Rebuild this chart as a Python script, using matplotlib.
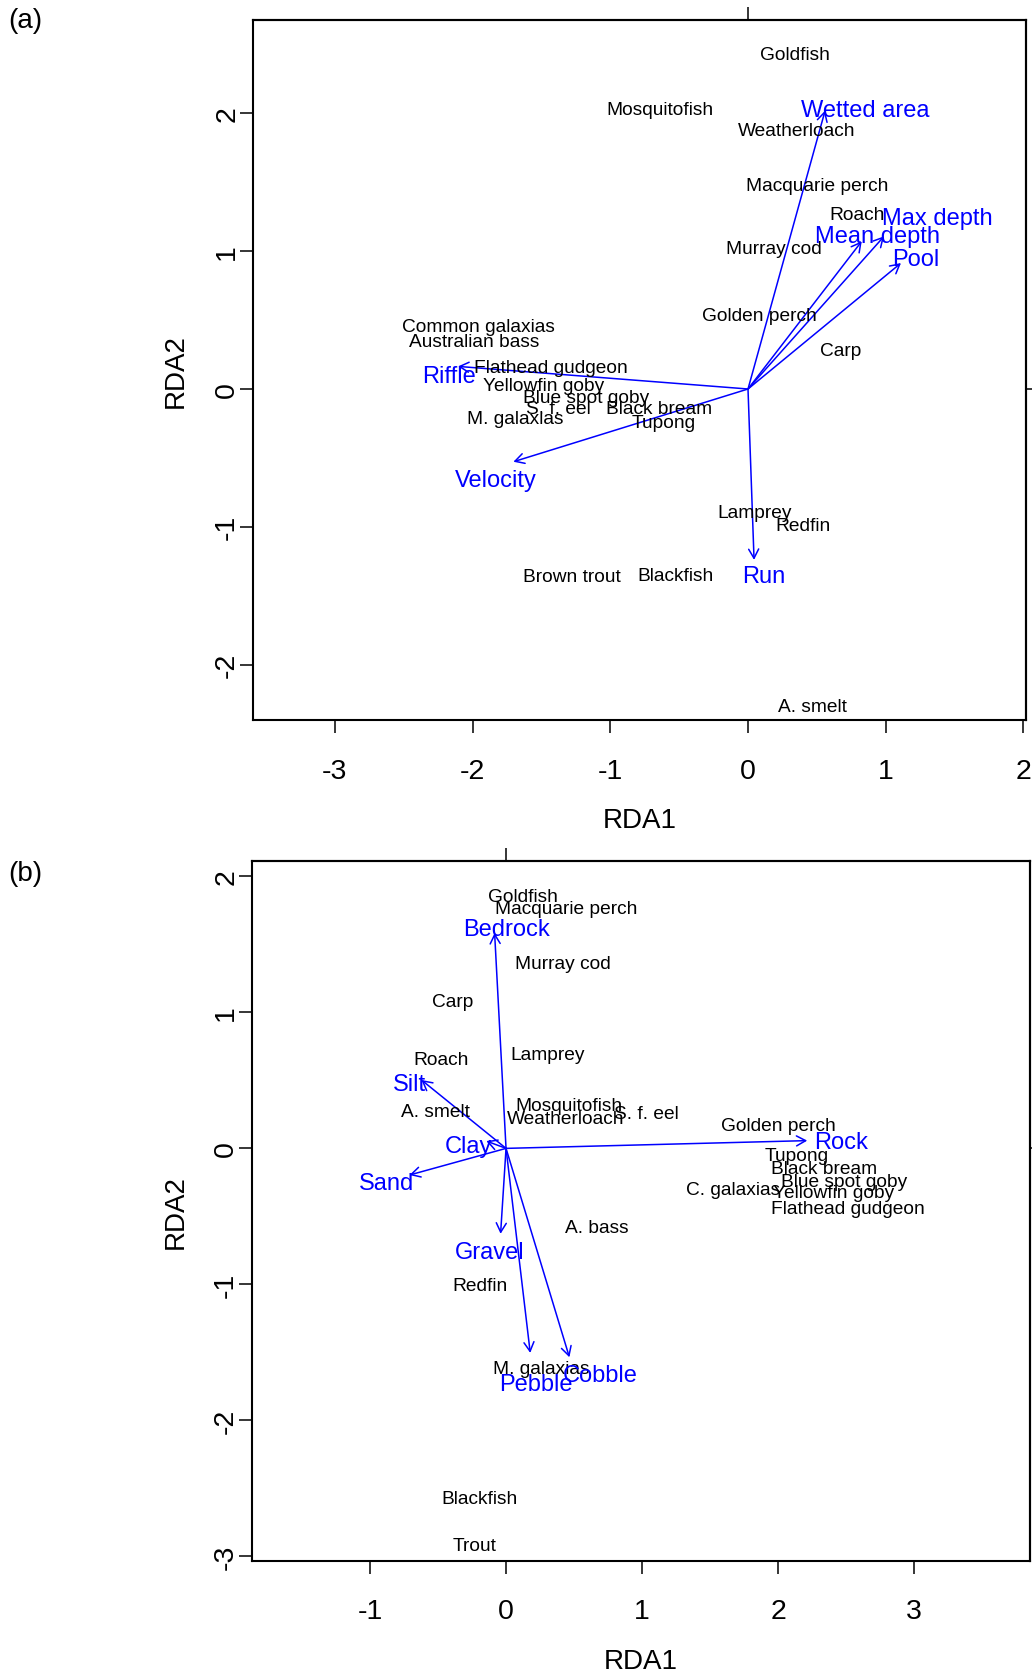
import matplotlib
matplotlib.use("Agg")
import matplotlib.pyplot as plt
from matplotlib.transforms import offset_copy

plt.rcParams["font.family"] = ["Liberation Sans", "DejaVu Sans"]

W, H = 1032, 1674

# ---- panel (a): habitat variables ----
species_a = ["Goldfish", "Mosquitofish", "Weatherloach", "Macquarie perch", "Roach",
             "Murray cod", "Golden perch", "Carp", "Common galaxias", "Australian bass",
             "Flathead gudgeon", "Yellowfin goby", "Blue spot goby", "S. f. eel",
             "Black bream", "Tupong", "M. galaxias", "Lamprey", "Redfin",
             "Brown trout", "Blackfish", "A. smelt"]
species_a_x = [0.34, -0.64, 0.35, 0.50, 0.795, 0.19, 0.085, 0.67, -1.96, -1.99,
               -1.43, -1.484, -1.175, -1.38, -0.644, -0.612, -1.688, 0.047, 0.398,
               -1.28, -0.53, 0.47]
species_a_y = [2.45, 2.05, 1.90, 1.50, 1.29, 1.04, 0.56, 0.30, 0.48, 0.37,
               0.18, 0.05, -0.04, -0.116, -0.12, -0.22, -0.19, -0.876, -0.966,
               -1.34, -1.33, -2.28]

env_a = ["Wetted area", "Max depth", "Mean depth", "Pool", "Riffle", "Velocity", "Run"]
env_a_x = [0.56, 0.988, 0.826, 1.111, -2.106, -1.704, 0.044]
env_a_y = [2.02, 1.108, 1.072, 0.914, 0.164, -0.528, -1.24]
env_a_lx = [0.85, 1.377, 0.937, 1.22, -2.173, -1.832, 0.118]
env_a_ly = [2.047, 1.261, 1.132, 0.963, 0.121, -0.637, -1.337]

# ---- panel (b): substrate variables ----
species_b = ["Goldfish", "Macquarie perch", "Murray cod", "Carp", "Roach", "Lamprey",
             "A. smelt", "Mosquitofish", "Weatherloach", "S. f. eel", "Golden perch",
             "Tupong", "Black bream", "Blue spot goby", "Yellowfin goby",
             "Flathead gudgeon", "C. galaxias", "A. bass", "Redfin", "M. galaxias",
             "Blackfish", "Trout"]
species_b_x = [0.124, 0.442, 0.417, -0.39, -0.478, 0.305, -0.519, 0.462, 0.442, 1.029,
               2.0, 2.135, 2.335, 2.486, 2.41, 2.514, 1.673, 0.669, -0.194, 0.258,
               -0.194, -0.232]
species_b_y = [1.876, 1.79, 1.38, 1.10, 0.677, 0.714, 0.295, 0.339, 0.24, 0.277,
               0.192, -0.029, -0.122, -0.22, -0.304, -0.421, -0.279, -0.556, -0.985,
               -1.598, -2.549, -2.90]

env_b = ["Bedrock", "Rock", "Silt", "Clay", "Sand", "Gravel", "Pebble", "Cobble"]
env_b_x = [-0.084, 2.215, -0.622, -0.145, -0.71, -0.04, 0.178, 0.466]
env_b_y = [1.584, 0.057, 0.503, 0.054, -0.196, -0.628, -1.504, -1.536]
env_b_lx = [0.0, 2.464, -0.712, -0.28, -0.877, -0.123, 0.22, 0.69]
env_b_ly = [1.633, 0.074, 0.498, 0.04, -0.232, -0.74, -1.708, -1.646]

xticks_a = [-3, -2, -1, 0, 1, 2]
yticks_a = [-2, -1, 0, 1, 2]
xticks_b = [-1, 0, 1, 2, 3]
yticks_b = [-3, -2, -1, 0, 1, 2]


def fx(px):
    return px / W


def fy(py):
    return 1 - py / H


def draw_panel(box, xlim, ylim, xticks, yticks, names, sx, sy, env, ex, ey, elx, ely, tag):
    left, top, right, bottom = box
    ax = fig.add_axes([fx(left), fy(bottom), (right - left) / W, (bottom - top) / H])
    ax.set_xlim(*xlim)
    ax.set_ylim(*ylim)

    for head_x, head_y in zip(ex, ey):
        ax.annotate("", xy=(head_x, head_y), xytext=(0, 0),
                    arrowprops=dict(arrowstyle="->,head_length=0.55,head_width=0.3",
                                    color="blue", lw=1.1, shrinkA=0, shrinkB=0,
                                    mutation_scale=12))
    # R centres text on the glyphs, matplotlib on the full line box
    tr = offset_copy(ax.transData, fig=fig, y=-3.2, units="dots")
    for name, x, y in zip(names, sx, sy):
        ax.text(x, y, name, ha="center", va="center", fontsize=13.8, color="black",
                transform=tr)
    for name, x, y in zip(env, elx, ely):
        ax.text(x, y, name, ha="center", va="center", fontsize=17, color="blue",
                transform=tr)

    ax.set_xticks(xticks)
    ax.set_yticks(yticks)
    ax.set_xticklabels([str(t) for t in xticks])
    ax.set_yticklabels([str(t) for t in yticks])
    ax.tick_params(axis="both", direction="out", length=9.5, width=1.1, labelsize=20.5)
    ax.tick_params(axis="x", pad=17.5)
    ax.tick_params(axis="y", pad=-0.3, labelrotation=90)
    for lab in ax.get_yticklabels():
        lab.set_va("center")
    for sp in ax.spines.values():
        sp.set_linewidth(1.5)

    # single ticks at zero on the top and right axes
    sec_x = ax.secondary_xaxis("top")
    sec_x.set_xticks([0])
    sec_x.tick_params(length=9.5, width=1.1, labeltop=False)
    sec_x.spines["top"].set_linewidth(1.5)
    sec_y = ax.secondary_yaxis("right")
    sec_y.set_yticks([0])
    sec_y.tick_params(length=9.5, width=1.1, labelright=False)
    sec_y.spines["right"].set_linewidth(1.5)

    cx = (left + right) / 2
    cy = (top + bottom) / 2
    fig.text(fx(cx), fy(bottom + 100), "RDA1", ha="center", va="center", fontsize=20)
    fig.text(fx(176), fy(cy), "RDA2", ha="center", va="center", fontsize=20, rotation=90)
    fig.text(fx(25.6), fy(top + 0.6 if tag == "(a)" else top + 12), tag,
             ha="center", va="center", fontsize=20)
    return ax


fig = plt.figure(figsize=(W / 100, H / 100), dpi=100)

draw_panel((253, 20.7, 1026, 721.4), (-3.595, 2.019), (-2.405, 2.68),
           xticks_a, yticks_a, species_a, species_a_x, species_a_y,
           env_a, env_a_x, env_a_y, env_a_lx, env_a_ly, "(a)")

draw_panel((252, 862, 1029.6, 1562), (-1.868, 3.85), (-3.034, 2.113),
           xticks_b, yticks_b, species_b, species_b_x, species_b_y,
           env_b, env_b_x, env_b_y, env_b_lx, env_b_ly, "(b)")

fig.savefig("out.png", dpi=100)
